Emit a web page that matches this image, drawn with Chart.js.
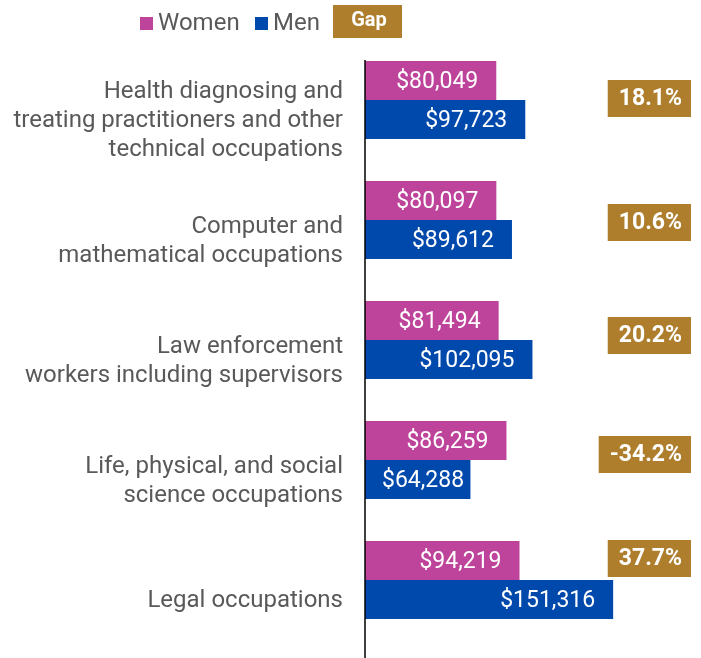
<!DOCTYPE html>
<html>
<head>
<meta charset="utf-8">
<script src="https://cdn.jsdelivr.net/npm/chart.js@4/dist/chart.umd.min.js"></script>
<style>
  html, body { margin: 0; padding: 0; background: #fff; }
  #wrap { width: 701px; height: 658px; position: relative; }
</style>
</head>
<body>
<div id="wrap"><canvas id="myChart"></canvas></div>
<script>
const categories = [
    ['Health diagnosing and', 'treating practitioners and other', 'technical occupations'],
    ['Computer and', 'mathematical occupations'],
    ['Law enforcement', 'workers including supervisors'],
    ['Life, physical, and social', 'science occupations'],
    ['Legal occupations']
];
const women = [80049, 80097, 81494, 86259, 94219];
const men = [97723, 89612, 102095, 64288, 151316];
const gap = [18.1, 10.6, 20.2, -34.2, 37.7];

const WOMEN_COLOR = '#BE449B';
const MEN_COLOR = '#0049AC';
const GAP_COLOR = '#AE7E2C';
const LABEL_COLOR = '#595959';
const FONT = 'Roboto, "Noto Sans", sans-serif';

// small vertical nudges of the gap boxes, relative to category centre (px)
const gapNudge = [-1.5, 2.5, -4.5, -5.5, -21.5];

const money = v => '$' + v.toLocaleString('en-US');

// value labels inside the bar ends + gap boxes + axis line + legend
const overlay = {
    id: 'overlay',
    afterDatasetsDraw(chart) {
        const ctx = chart.ctx;
        const xs = chart.scales.x;
        const ys = chart.scales.y;
        const x0 = xs.getPixelForValue(0);

        ctx.save();
        ctx.font = '23px ' + FONT;
        ctx.fillStyle = '#fff';
        ctx.textAlign = 'right';
        ctx.textBaseline = 'middle';
        chart.data.datasets.forEach((ds, di) => {
            chart.getDatasetMeta(di).data.forEach((bar, i) => {
                const txt = money(ds.data[i]);
                const w = ctx.measureText(txt).width;
                const x = Math.max(bar.x - 18, x0 + 17 + w);
                ctx.fillText(txt, x, bar.y + 2);
            });
        });

        // axis line
        const firstBar = chart.getDatasetMeta(0).data[0];
        ctx.strokeStyle = '#000';
        ctx.lineWidth = 1.5;
        ctx.beginPath();
        ctx.moveTo(x0, firstBar.y - firstBar.height / 2 - 1);
        ctx.lineTo(x0, chart.height);
        ctx.stroke();

        // gap boxes
        ctx.font = 'bold 23px ' + FONT;
        const right = 691;
        gap.forEach((g, i) => {
            const txt = g.toFixed(1) + '%';
            const w = ctx.measureText(txt).width;
            const cy = ys.getPixelForValue(i) + gapNudge[i];
            ctx.fillStyle = GAP_COLOR;
            ctx.fillRect(right - w - 20, cy - 18.5, w + 20, 37);
            ctx.fillStyle = '#fff';
            ctx.textAlign = 'right';
            ctx.fillText(txt, right - 9, cy + 1);
        });

        // legend
        ctx.textAlign = 'left';
        ctx.font = '24px ' + FONT;
        ctx.fillStyle = WOMEN_COLOR;
        ctx.fillRect(140, 17, 13, 13);
        ctx.fillStyle = LABEL_COLOR;
        ctx.fillText('Women', 158, 24);
        ctx.fillStyle = MEN_COLOR;
        ctx.fillRect(255, 17, 13, 13);
        ctx.fillStyle = LABEL_COLOR;
        ctx.fillText('Men', 273, 24);
        ctx.fillStyle = GAP_COLOR;
        ctx.fillRect(333, 5, 69, 33);
        ctx.fillStyle = '#fff';
        ctx.font = 'bold 20px ' + FONT;
        ctx.textAlign = 'center';
        ctx.fillText('Gap', 369, 21);
        ctx.restore();
    }
};

const ctx = document.getElementById('myChart').getContext('2d');
const chart = new Chart(ctx, {
    type: 'bar',
    data: {
        labels: categories,
        datasets: [
            { label: 'Women', data: women, backgroundColor: WOMEN_COLOR },
            { label: 'Men', data: men, backgroundColor: MEN_COLOR }
        ]
    },
    options: {
        indexAxis: 'y',
        responsive: true,
        maintainAspectRatio: false,
        animation: false,
        layout: { padding: { top: 40, bottom: 18, left: 0, right: 8 } },
        datasets: { bar: { categoryPercentage: 0.65, barPercentage: 1 } },
        plugins: {
            legend: { display: false },
            tooltip: { enabled: false }
        },
        scales: {
            x: {
                display: false,
                min: 0,
                max: 200000
            },
            y: {
                afterFit(scale) {
                    scale.width = 365;
                    scale.paddingTop = 0;
                    scale.paddingBottom = 0;
                },
                grid: { display: false, drawTicks: false },
                border: { display: false },
                ticks: {
                    color: LABEL_COLOR,
                    padding: 22,
                    labelOffset: 21,
                    font: { family: FONT, size: 24, lineHeight: '29px' }
                }
            }
        }
    },
    plugins: [overlay]
});
</script>
</body>
</html>
